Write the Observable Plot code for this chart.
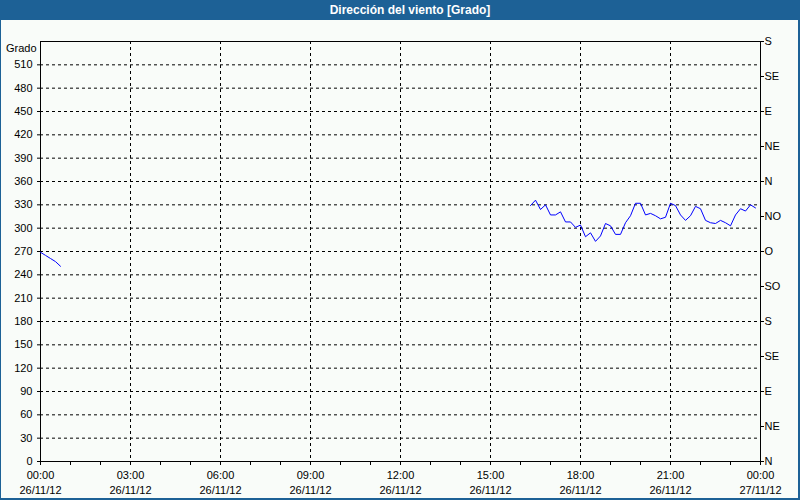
<!DOCTYPE html>
<html>
<head>
<meta charset="utf-8">
<script src="https://cdn.jsdelivr.net/npm/d3@7"></script>
<script src="https://cdn.jsdelivr.net/npm/@observablehq/plot@0.6"></script>
<style>
  body { margin: 0; background: #fff; }
  #wrap { width: 800px; height: 500px; position: relative; overflow: hidden; background: #f9fcf9;
          font-family: Tahoma, "Liberation Sans", Arial, sans-serif; }
  #wrap::after { content: ""; position: absolute; left: 0; top: 0; width: 800px; height: 500px; box-sizing: border-box;
          border-left: 1px solid #1d6196; border-right: 2px solid #1d6196; border-bottom: 2px solid #1d6196; pointer-events: none; }
  #title { position: absolute; left: 0; top: 0; width: 800px; height: 20px; background: #1d6196; color: #fff;
           font-weight: bold; font-size: 12px; line-height: 20px; text-align: center; box-sizing: border-box; padding-left: 20px; }
  #chart { position: absolute; left: 0; top: 20px; }
</style>
</head>
<body>
<div id="wrap">
  <div id="title">Dirección del viento [Grado]</div>
  <div id="chart"></div>
</div>
<script>
// ---- data ----
const day = "2012-11-26";
const seg1Times = ["00:00", "00:10", "00:20", "00:30", "00:40"];
const seg1Values = [269, 265, 261, 257, 251];
const seg2Times = ["16:20","16:30","16:40","16:50","17:00","17:10","17:20","17:30","17:40","17:50",
                   "18:00","18:10","18:20","18:30","18:40","18:50","19:00","19:10","19:20","19:30",
                   "19:40","19:50","20:00","20:10","20:20","20:30","20:40","20:50","21:00","21:10",
                   "21:20","21:30","21:40","21:50","22:00","22:10","22:20","22:30","22:40","22:50",
                   "23:00","23:10","23:20","23:30","23:40","23:50"];
const seg2Values = [329, 336, 324, 330, 317, 317, 321, 308, 308, 301,
                    304, 289, 294, 283, 290, 306, 303, 292, 292, 307,
                    316, 332, 332, 317, 319, 316, 312, 314, 332, 329,
                    317, 310, 316, 328, 325, 310, 307, 306, 310, 307,
                    303, 317, 325, 322, 330, 326];
const yTicks = [0, 30, 60, 90, 120, 150, 180, 210, 240, 270, 300, 330, 360, 390, 420, 450, 480, 510];
const dirTicks = [0, 45, 90, 135, 180, 225, 270, 315, 360, 405, 450, 495, 540];
const dirLabels = ["N", "NE", "E", "SE", "S", "SO", "O", "NO", "N", "NE", "E", "SE", "S"];
const majorTimes = ["2012-11-26T00:00", "2012-11-26T03:00", "2012-11-26T06:00", "2012-11-26T09:00", "2012-11-26T12:00",
                    "2012-11-26T15:00", "2012-11-26T18:00", "2012-11-26T21:00", "2012-11-27T00:00"];
const yLabel = "Grado";

// ---- build ----
const parse = d3.utcParse("%Y-%m-%dT%H:%M");
const seg1 = seg1Times.map((t, i) => ({t: parse(day + "T" + t), v: seg1Values[i]}));
const seg2 = seg2Times.map((t, i) => ({t: parse(day + "T" + t), v: seg2Values[i]}));
const major = majorTimes.map(parse);
const minor = d3.utcHour.range(major[0], d3.utcHour.offset(major[major.length - 1], 1));
const fmtT = d3.utcFormat("%H:%M"), fmtD = d3.utcFormat("%d/%m/%y");

const chart = Plot.plot({
  width: 800,
  height: 480,
  marginTop: 21,
  marginBottom: 39,
  marginLeft: 40,
  marginRight: 40,
  style: {background: "transparent", color: "#000", fontFamily: 'Tahoma, "Liberation Sans", Arial, sans-serif', fontSize: "11px"},
  x: {type: "utc", domain: [major[0], major[major.length - 1]]},
  y: {domain: [0, 540]},
  marks: [
    Plot.gridY(yTicks.filter(d => d > 0), {stroke: "#000", strokeOpacity: 1, strokeDasharray: "3,3"}),
    Plot.gridX(major.slice(1, -1), {stroke: "#000", strokeOpacity: 1, strokeDasharray: "3,3"}),
    Plot.frame({stroke: "#000"}),
    Plot.axisY({anchor: "left", ticks: yTicks, tickSize: 3, tickPadding: 5, tickFormat: d => String(d), label: null, fontSize: 11}),
    Plot.axisY({anchor: "right", ticks: dirTicks, tickSize: 3, tickPadding: 1, tickFormat: d => dirLabels[dirTicks.indexOf(d)], label: null, fontSize: 11}),
    Plot.axisX({anchor: "bottom", ticks: minor, tickSize: 4, tickFormat: () => "", label: null}),
    Plot.axisX({anchor: "bottom", ticks: major, tickSize: 4, tickPadding: 3, lineHeight: 1.35,
                tickFormat: d => fmtT(d) + "\n" + fmtD(d), label: null, fontSize: 11}),
    Plot.text([yLabel], {frameAnchor: "top-left", text: d => d, dx: -4, dy: 3, textAnchor: "end", fontSize: 11, fill: "#000"}),
    Plot.line(seg1, {x: "t", y: "v", stroke: "#0000ff", strokeWidth: 1}),
    Plot.line(seg2, {x: "t", y: "v", stroke: "#0000ff", strokeWidth: 1})
  ]
});
document.getElementById("chart").appendChild(chart);
</script>
</body>
</html>
